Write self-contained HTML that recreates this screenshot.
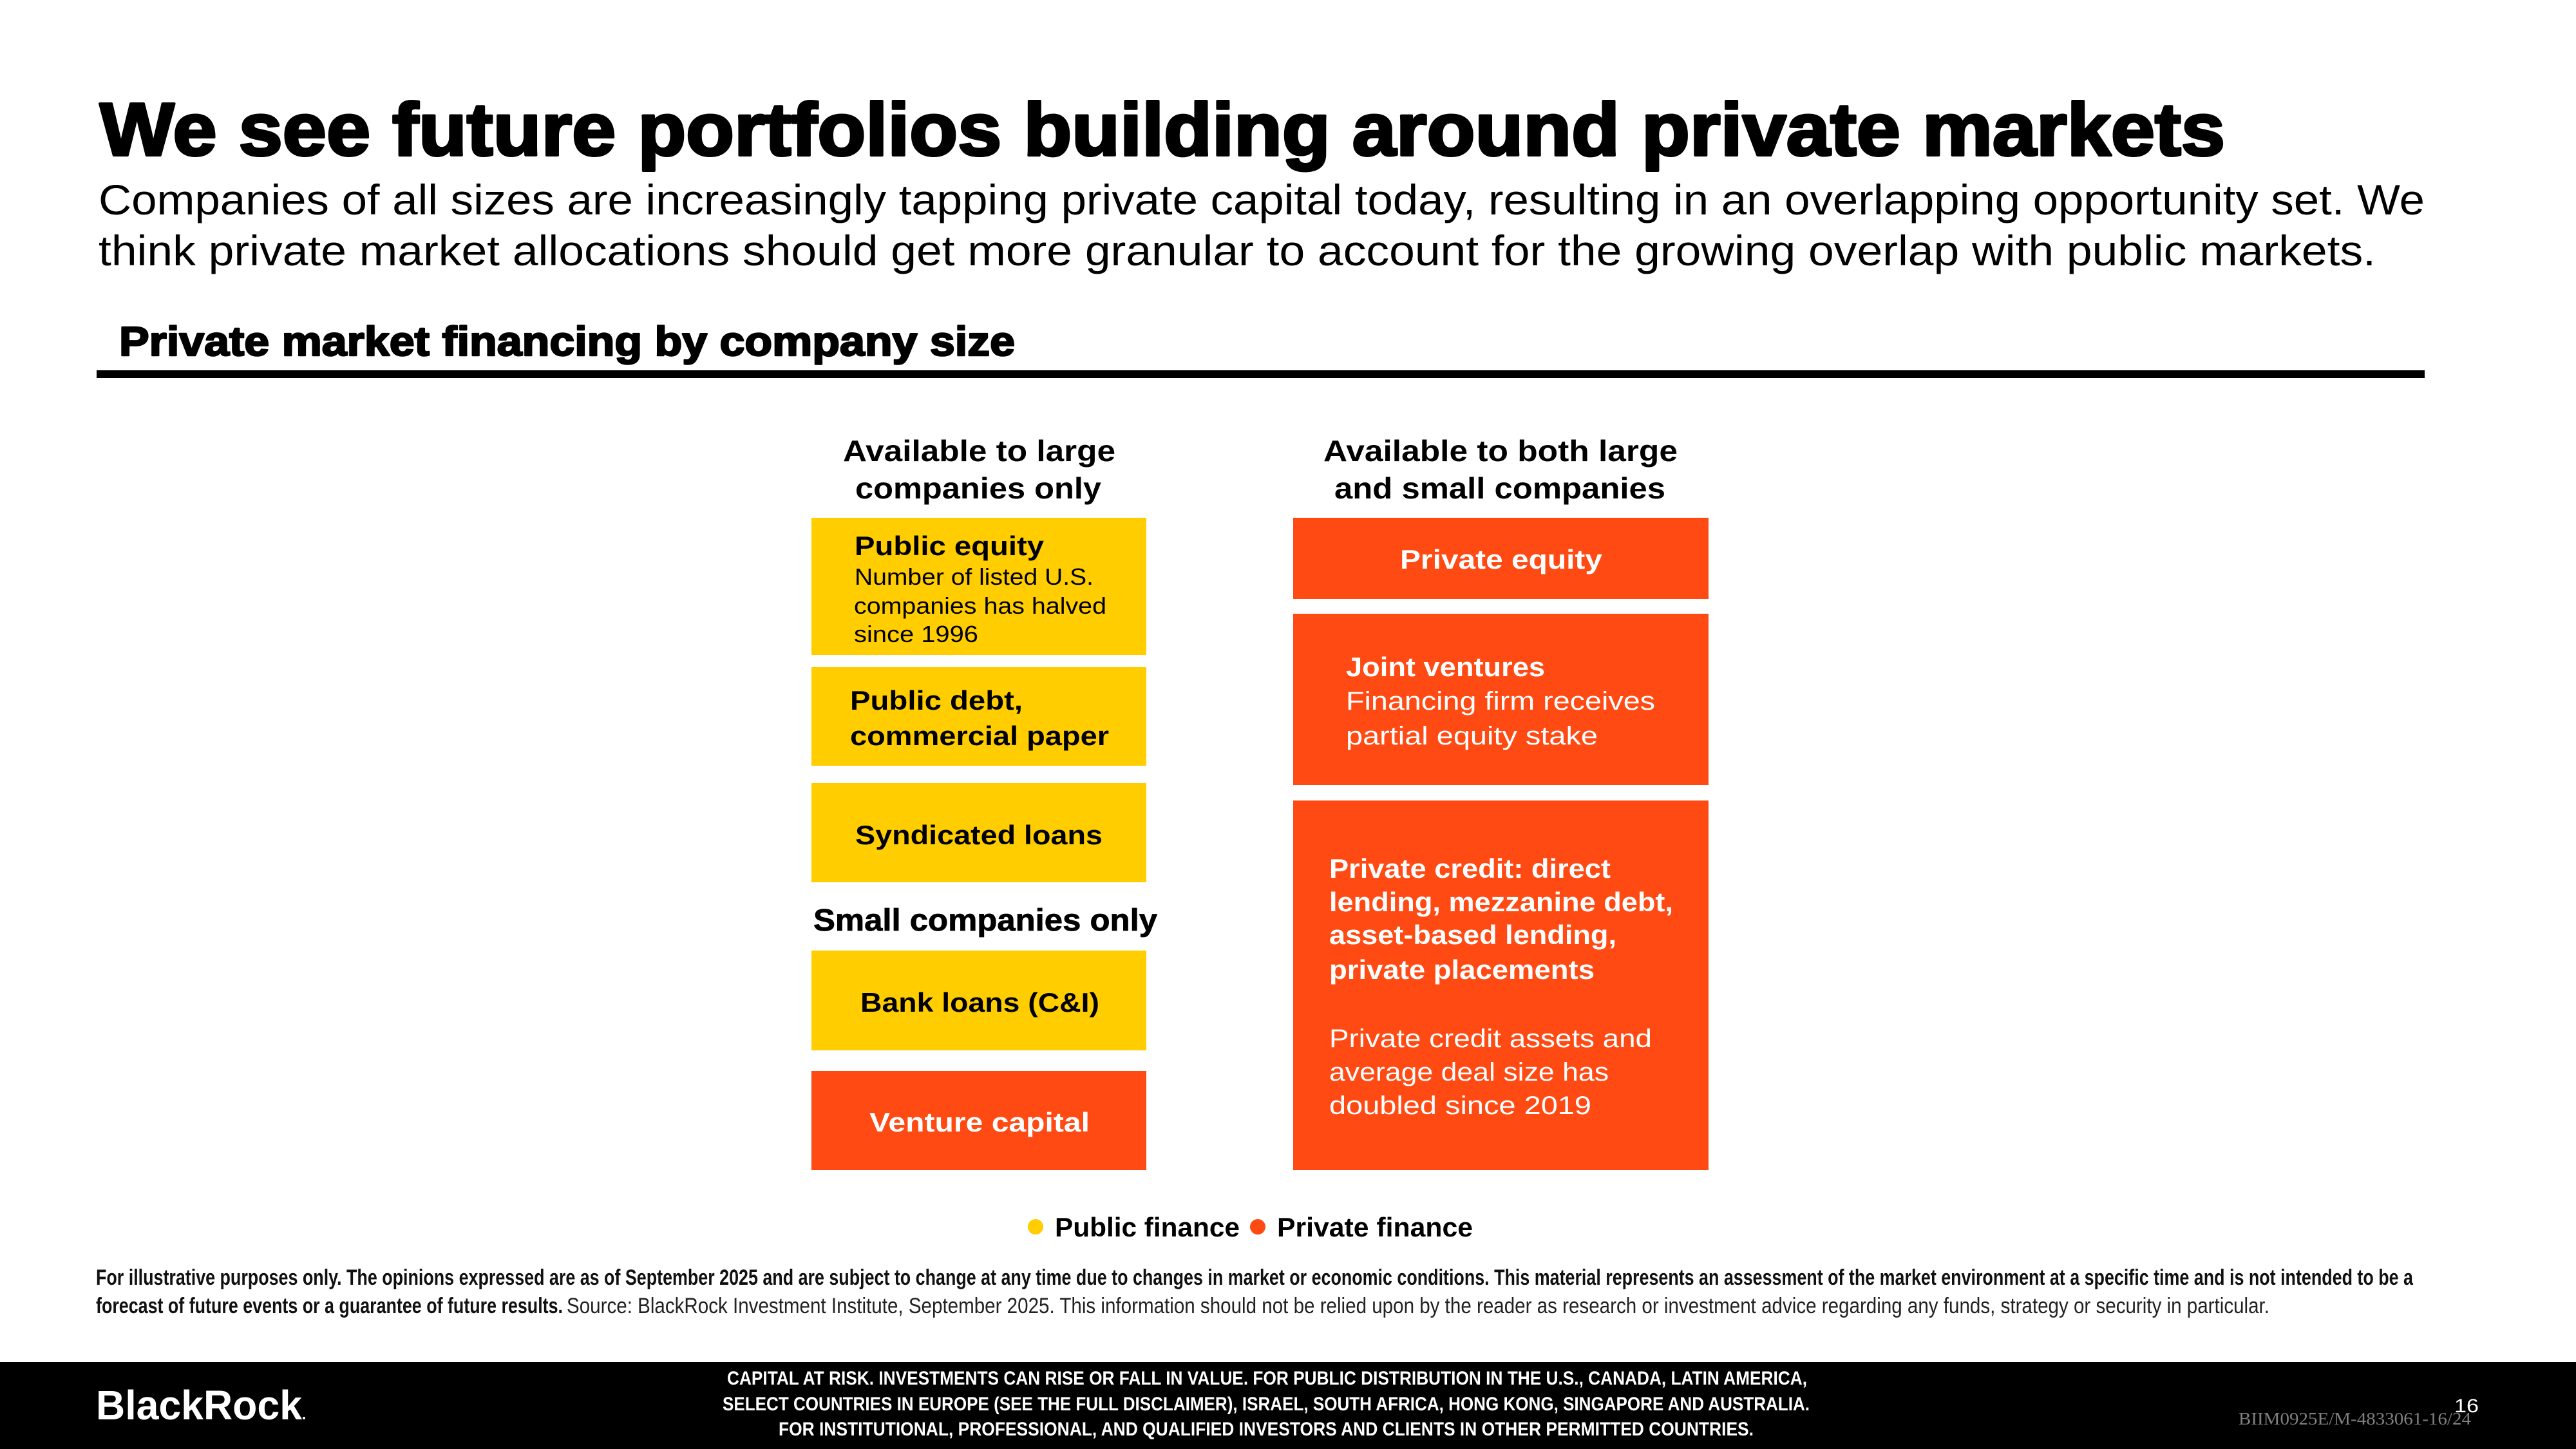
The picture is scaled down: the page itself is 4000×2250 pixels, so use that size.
<!DOCTYPE html>
<html>
<head>
<meta charset="utf-8">
<style>
  html, body { margin: 0; padding: 0; background: #ffffff; }
  body { width: 4000px; height: 2250px; overflow: hidden; }
  svg { display: block; }
  text { font-family: "Liberation Sans", Arial, sans-serif; }
  .b { font-weight: 700; }
  .r { font-weight: 400; }
</style>
</head>
<body>
<svg width="4000" height="2250" viewBox="0 0 4000 2250" xmlns="http://www.w3.org/2000/svg">
  <rect x="0" y="0" width="4000" height="2250" fill="#ffffff"/>

  <!-- Title -->
  <text class="b" x="155" y="241" font-size="116" fill="#000" stroke="#000" stroke-width="4" stroke-linejoin="round" textLength="3300" lengthAdjust="spacingAndGlyphs">We see future portfolios building around private markets</text>

  <!-- Subtitle -->
  <text class="r" x="153" y="333" font-size="66" fill="#000" textLength="3612" lengthAdjust="spacingAndGlyphs">Companies of all sizes are increasingly tapping private capital today, resulting in an overlapping opportunity set. We</text>
  <text class="r" x="153" y="412" font-size="66" fill="#000" textLength="3536" lengthAdjust="spacingAndGlyphs">think private market allocations should get more granular to account for the growing overlap with public markets.</text>

  <!-- Chart title + rule -->
  <text class="b" x="185" y="552" font-size="64" fill="#000" stroke="#000" stroke-width="2.5" stroke-linejoin="round" textLength="1391" lengthAdjust="spacingAndGlyphs">Private market financing by company size</text>
  <rect x="150" y="575" width="3615" height="12" fill="#000"/>

  <!-- Column headers -->
  <text class="b" x="1309" y="716" font-size="46" fill="#000" textLength="423" lengthAdjust="spacingAndGlyphs">Available to large</text>
  <text class="b" x="1328" y="774" font-size="46" fill="#000" textLength="382" lengthAdjust="spacingAndGlyphs">companies only</text>
  <text class="b" x="2055" y="716" font-size="46" fill="#000" textLength="550" lengthAdjust="spacingAndGlyphs">Available to both large</text>
  <text class="b" x="2072" y="774" font-size="46" fill="#000" textLength="514" lengthAdjust="spacingAndGlyphs">and small companies</text>

  <!-- Left column boxes -->
  <rect x="1260" y="804" width="520" height="213" fill="#FFCD00"/>
  <rect x="1260" y="1036" width="520" height="153" fill="#FFCD00"/>
  <rect x="1260" y="1216" width="520" height="154" fill="#FFCD00"/>
  <rect x="1260" y="1476" width="520" height="155" fill="#FFCD00"/>
  <rect x="1260" y="1663" width="520" height="154" fill="#FF4A14"/>

  <!-- Right column boxes -->
  <rect x="2008" y="804" width="645" height="126" fill="#FF4A14"/>
  <rect x="2008" y="953" width="645" height="266" fill="#FF4A14"/>
  <rect x="2008" y="1243" width="645" height="574" fill="#FF4A14"/>

  <!-- Left texts -->
  <text class="b" x="1327" y="862" font-size="42" fill="#000" textLength="294" lengthAdjust="spacingAndGlyphs">Public equity</text>
  <text class="r" x="1327" y="908" font-size="36" fill="#000" textLength="371" lengthAdjust="spacingAndGlyphs">Number of listed U.S.</text>
  <text class="r" x="1326" y="953" font-size="36" fill="#000" textLength="392" lengthAdjust="spacingAndGlyphs">companies has halved</text>
  <text class="r" x="1326" y="997" font-size="36" fill="#000" textLength="193" lengthAdjust="spacingAndGlyphs">since 1996</text>

  <text class="b" x="1320" y="1102" font-size="42" fill="#000" textLength="268" lengthAdjust="spacingAndGlyphs">Public debt,</text>
  <text class="b" x="1320" y="1157" font-size="42" fill="#000" textLength="402" lengthAdjust="spacingAndGlyphs">commercial paper</text>

  <text class="b" x="1328" y="1311" font-size="42" fill="#000" textLength="384" lengthAdjust="spacingAndGlyphs">Syndicated loans</text>

  <text class="b" x="1263" y="1445" font-size="48" fill="#000" stroke="#000" stroke-width="0.8" textLength="534" lengthAdjust="spacingAndGlyphs">Small companies only</text>

  <text class="b" x="1336" y="1571" font-size="42" fill="#000" textLength="371" lengthAdjust="spacingAndGlyphs">Bank loans (C&amp;I)</text>

  <text class="b" x="1350" y="1757" font-size="42" fill="#fff" textLength="342" lengthAdjust="spacingAndGlyphs">Venture capital</text>

  <!-- Right texts -->
  <text class="b" x="2174" y="883" font-size="42" fill="#fff" textLength="314" lengthAdjust="spacingAndGlyphs">Private equity</text>

  <text class="b" x="2090" y="1050" font-size="42" fill="#fff" textLength="309" lengthAdjust="spacingAndGlyphs">Joint ventures</text>
  <text class="r" x="2090" y="1102" font-size="40" fill="#fff" textLength="480" lengthAdjust="spacingAndGlyphs">Financing firm receives</text>
  <text class="r" x="2090" y="1156" font-size="40" fill="#fff" textLength="391" lengthAdjust="spacingAndGlyphs">partial equity stake</text>

  <text class="b" x="2064" y="1363" font-size="42" fill="#fff" textLength="437" lengthAdjust="spacingAndGlyphs">Private credit: direct</text>
  <text class="b" x="2064" y="1415" font-size="42" fill="#fff" textLength="534" lengthAdjust="spacingAndGlyphs">lending, mezzanine debt,</text>
  <text class="b" x="2064" y="1466" font-size="42" fill="#fff" textLength="446" lengthAdjust="spacingAndGlyphs">asset-based lending,</text>
  <text class="b" x="2064" y="1520" font-size="42" fill="#fff" textLength="412" lengthAdjust="spacingAndGlyphs">private placements</text>

  <text class="r" x="2064" y="1626" font-size="40" fill="#fff" textLength="501" lengthAdjust="spacingAndGlyphs">Private credit assets and</text>
  <text class="r" x="2064" y="1678" font-size="40" fill="#fff" textLength="434" lengthAdjust="spacingAndGlyphs">average deal size has</text>
  <text class="r" x="2064" y="1730" font-size="40" fill="#fff" textLength="407" lengthAdjust="spacingAndGlyphs">doubled since 2019</text>

  <!-- Legend -->
  <circle cx="1608" cy="1905" r="12" fill="#FFCD00"/>
  <text class="b" x="1638" y="1920" font-size="42" fill="#000" textLength="287" lengthAdjust="spacingAndGlyphs">Public finance</text>
  <circle cx="1953" cy="1905" r="12" fill="#FF4A14"/>
  <text class="b" x="1983" y="1920" font-size="42" fill="#000" textLength="304" lengthAdjust="spacingAndGlyphs">Private finance</text>

  <!-- Footnote -->
  <text class="b" x="149" y="1995" font-size="34" fill="#111" textLength="3598" lengthAdjust="spacingAndGlyphs">For illustrative purposes only. The opinions expressed are as of September 2025 and are subject to change at any time due to changes in market or economic conditions. This material represents an assessment of the market environment at a specific time and is not intended to be a</text>
  <text class="b" x="149" y="2039" font-size="34" fill="#111" textLength="725" lengthAdjust="spacingAndGlyphs">forecast of future events or a guarantee of future results.</text>
  <text class="r" x="880" y="2039" font-size="34" fill="#222" textLength="2644" lengthAdjust="spacingAndGlyphs">Source: BlackRock Investment Institute, September 2025. This information should not be relied upon by the reader as research or investment advice regarding any funds, strategy or security in particular.</text>

  <!-- Footer band -->
  <rect x="0" y="2115" width="4000" height="135" fill="#000"/>
  <text class="b" x="149" y="2204" font-size="64" fill="#fff" textLength="320" lengthAdjust="spacingAndGlyphs">BlackRock</text>
  <circle cx="472" cy="2202" r="2" fill="#fff"/>

  <text class="b" x="1129" y="2150" font-size="30" fill="#fff" textLength="1677" lengthAdjust="spacingAndGlyphs">CAPITAL AT RISK. INVESTMENTS CAN RISE OR FALL IN VALUE. FOR PUBLIC DISTRIBUTION IN THE U.S., CANADA, LATIN AMERICA,</text>
  <text class="b" x="1122" y="2190" font-size="30" fill="#fff" textLength="1688" lengthAdjust="spacingAndGlyphs">SELECT COUNTRIES IN EUROPE (SEE THE FULL DISCLAIMER), ISRAEL, SOUTH AFRICA, HONG KONG, SINGAPORE AND AUSTRALIA.</text>
  <text class="b" x="1209" y="2229" font-size="30" fill="#fff" textLength="1514" lengthAdjust="spacingAndGlyphs">FOR INSTITUTIONAL, PROFESSIONAL, AND QUALIFIED INVESTORS AND CLIENTS IN OTHER PERMITTED COUNTRIES.</text>

  <text x="3476" y="2212" font-size="27" fill="#808080" textLength="361" lengthAdjust="spacingAndGlyphs" style="font-family:'Liberation Serif', serif;">BIIM0925E/M-4833061-16/24</text>
  <text class="r" x="3811" y="2193" font-size="30" fill="#fff" textLength="38" lengthAdjust="spacingAndGlyphs">16</text>
</svg>
</body>
</html>
